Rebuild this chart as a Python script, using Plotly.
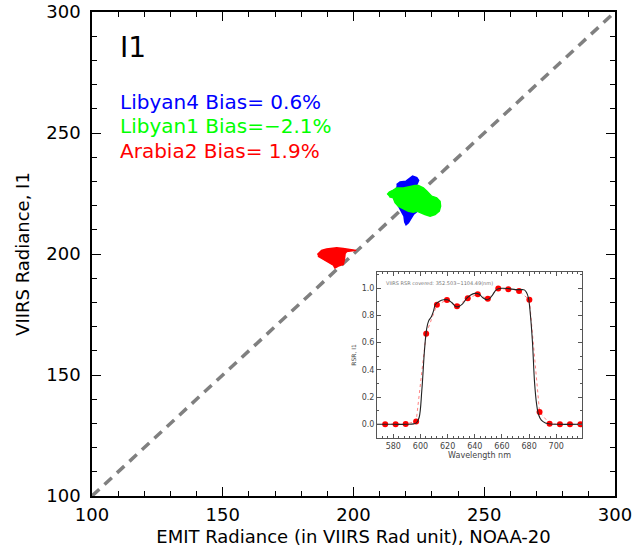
import plotly.graph_objects as go

# ---- main scatter data (cluster outlines) ----
libyan4_x = [216.5, 217.8, 220.1, 221.6, 222.6, 224.2, 224.9, 224.2, 223.5, 224.2, 224.4, 222.9,
             221.9, 221.0, 220.1, 219.6, 219.3, 218.2, 217.3, 216.5, 215.9, 216.3]
libyan4_y = [228.7, 229.8, 230.1, 231.5, 232.2, 231.6, 230.4, 228.7, 227.3, 221.2, 217.7, 216.3,
             214.5, 212.9, 212.1, 213.2, 215.6, 217.7, 219.1, 221.2, 225.3, 227.3]
libyan1_x = [212.9, 213.7, 215.2, 216.5, 219.1, 221.6, 223.5, 224.8, 226.7, 228.0, 229.9, 231.8,
             233.1, 233.3, 232.8, 231.2, 229.3, 227.3, 225.4, 224.2, 222.9, 221.0, 219.1, 217.1,
             215.9, 215.2, 213.7]
libyan1_y = [224.6, 225.6, 226.4, 227.3, 227.3, 228.0, 228.3, 228.3, 227.3, 226.0, 223.9, 223.2,
             221.8, 219.8, 217.7, 216.3, 215.6, 216.3, 217.0, 217.7, 217.3, 217.7, 218.7, 219.8,
             221.2, 223.2, 223.6]
arabia2_x = [186.2, 187.8, 189.7, 193.6, 196.1, 198.7, 201.0, 197.4, 196.8, 196.5, 196.1, 194.2,
             192.9, 192.3, 190.8, 189.1, 187.4, 186.4]
arabia2_y = [199.8, 201.5, 202.1, 202.6, 202.3, 201.9, 201.5, 201.0, 200.2, 197.7, 195.7, 195.0,
             194.2, 195.4, 196.4, 197.2, 198.4, 199.1]

site_names = ["Libyan4", "Libyan1", "Arabia2"]
site_bias = ["Bias= 0.6%", "Bias=\u22122.1%", "Bias= 1.9%"]
site_colors = ["#0000ff", "#00ff00", "#ff0000"]

one_to_one = [100, 300]

# ---- inset RSR data ----
rsr_wl = [568, 580, 590, 595, 597, 599, 601, 603, 604.5, 606, 608, 609.5, 611, 614, 617, 620,
          623, 626, 628, 631, 634, 637, 640, 643, 646, 649, 651, 653, 656, 660, 665, 670, 674,
          676.5, 678, 679.5, 681, 682.5, 684, 685.5, 687, 689, 692, 696, 700, 719]
rsr_val = [0, 0, 0, 0.003, 0.01, 0.05, 0.25, 0.55, 0.7, 0.76, 0.79, 0.83, 0.88, 0.905, 0.915,
           0.915, 0.895, 0.865, 0.865, 0.885, 0.925, 0.95, 0.962, 0.958, 0.93, 0.915, 0.925,
           0.95, 0.99, 1.0, 0.997, 0.99, 0.99, 0.988, 0.97, 0.93, 0.8, 0.6, 0.31, 0.15, 0.07,
           0.03, 0.01, 0.002, 0, 0]
band_wl = [574, 581.7, 589.1, 596.8, 604.2, 612.1, 619.5, 626.9, 634.8, 642.2, 649.6, 657.3,
           664.7, 672.6, 680.2, 687.7, 695.1, 702.7, 710.1, 717.8]
band_val = [0, 0, 0.003, 0.02, 0.666, 0.879, 0.913, 0.867, 0.927, 0.956, 0.922, 0.998, 0.993,
            0.98, 0.915, 0.09, 0.005, 0, 0, 0]

FONT = "DejaVu Sans"

fig = go.Figure()

fig.add_trace(go.Scatter(x=one_to_one, y=one_to_one, mode="lines",
                         line=dict(color="#808080", width=3.5, dash="10px,7px"),
                         hoverinfo="skip", showlegend=False))

for xs, ys, col in [(libyan4_x, libyan4_y, site_colors[0]),
                    (libyan1_x, libyan1_y, site_colors[1]),
                    (arabia2_x, arabia2_y, site_colors[2])]:
    fig.add_trace(go.Scatter(x=xs, y=ys, mode="lines", fill="toself", fillcolor=col,
                             line=dict(color=col, width=1.5), showlegend=False))

# inset
fig.add_trace(go.Scatter(x=band_wl, y=band_val, mode="lines+markers", xaxis="x2", yaxis="y2",
                         line=dict(color="#ff6060", width=0.8, dash="dot"),
                         marker=dict(color="#ff0000", size=6), showlegend=False))
fig.add_trace(go.Scatter(x=rsr_wl, y=rsr_val, mode="lines", xaxis="x2", yaxis="y2",
                         line=dict(color="#222222", width=1.1, shape="spline"), showlegend=False))

main_axis = dict(range=[100, 300], showline=True, linecolor="black", linewidth=1.5,
                 mirror="ticks", ticks="inside", ticklen=9, tickwidth=1.2, tickcolor="black",
                 dtick=50, showgrid=False, zeroline=False, automargin=False,
                 minor=dict(dtick=10, ticks="inside", ticklen=5, tickcolor="black", tickwidth=1),
                 tickfont=dict(family=FONT, size=18, color="black"))

inset_axis = dict(showline=True, linecolor="#555555", linewidth=1, mirror="ticks",
                  ticks="inside", ticklen=4, tickwidth=0.8, tickcolor="#555555",
                  showgrid=False, zeroline=False, automargin=False,
                  tickfont=dict(family=FONT, size=8, color="#444444"))

fig.update_layout(
    width=633, height=549,
    margin=dict(l=92, r=18, t=12, b=53),
    paper_bgcolor="white", plot_bgcolor="white",
    xaxis=dict(main_axis, ticklabelstandoff=2,
               title=dict(text="EMIT Radiance (in VIIRS Rad unit), NOAA-20",
                          font=dict(family=FONT, size=18, color="black"), standoff=6)),
    yaxis=dict(main_axis, ticklabelstandoff=6,
               title=dict(text="VIIRS Radiance, I1",
                          font=dict(family=FONT, size=18, color="black"), standoff=12)),
    xaxis2=dict(inset_axis, domain=[0.545, 0.937], anchor="y2", range=[568, 719], dtick=20,
                minor=dict(dtick=4, ticks="inside", ticklen=2, tickcolor="#555555"),
                title=dict(text="Wavelength nm", font=dict(family=FONT, size=8, color="#444444"),
                           standoff=2)),
    yaxis2=dict(inset_axis, domain=[0.12, 0.463], anchor="x2", range=[-0.1, 1.12], dtick=0.2,
                tickformat=".1f",
                minor=dict(dtick=0.1, ticks="inside", ticklen=2, tickcolor="#555555"),
                title=dict(text="RSR, I1", font=dict(family=FONT, size=6, color="#444444"),
                           standoff=4)),
    showlegend=False,
)

fig.add_annotation(x=109.9, y=285.3, xref="x", yref="y", text="I1", showarrow=False,
                   xanchor="left", yanchor="middle", font=dict(family=FONT, size=28, color="black"))
legend_y = [263.0, 253.1, 242.4]
for name, bias, col, yy in zip(site_names, site_bias, site_colors, legend_y):
    fig.add_annotation(x=109.9, y=yy, xref="x", yref="y", text=f"{name} {bias}",
                       showarrow=False, xanchor="left", yanchor="middle",
                       font=dict(family=FONT, size=20, color=col))

fig.add_annotation(x=573, y=1.04, xref="x2", yref="y2",
                   text="VIIRS RSR covered: 352.503~1104.49(nm)", showarrow=False,
                   xanchor="left", yanchor="middle", font=dict(family=FONT, size=5, color="#777777"))

fig.write_html("out.html", config={"displayModeBar": False},
               post_script="document.body.style.margin='0px';")
